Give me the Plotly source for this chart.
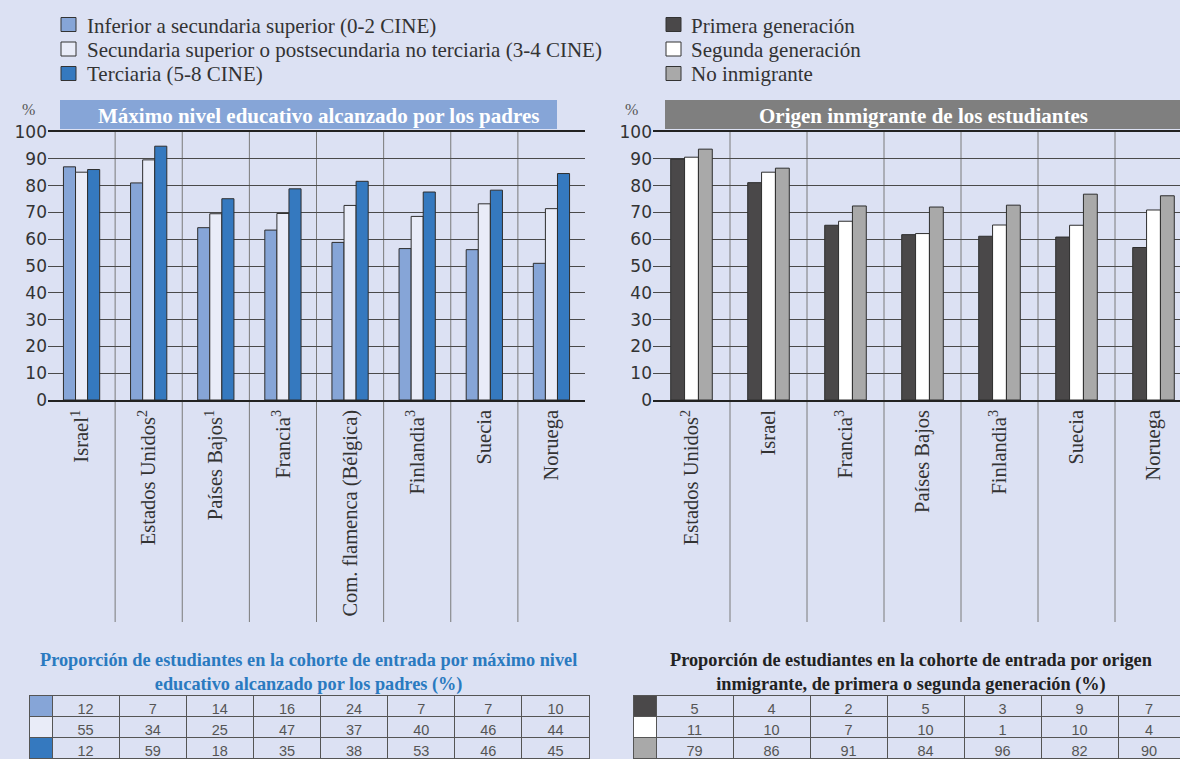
import plotly.graph_objects as go

W, H = 1180, 759

# ---------------- data ----------------
edu_countries = ["Israel<sup>1</sup>", "Estados Unidos<sup>2</sup>", "Países Bajos<sup>1</sup>",
                 "Francia<sup>3</sup>", "Com. flamenca (Bélgica)", "Finlandia<sup>3</sup>",
                 "Suecia", "Noruega"]
edu_low = [87, 81, 64.3, 63.4, 58.8, 56.5, 56.1, 51.0]
edu_mid = [85, 89.6, 69.5, 69.6, 72.6, 68.5, 73.2, 71.4]
edu_high = [86, 94.7, 75.1, 78.8, 81.6, 77.6, 78.3, 84.5]

imm_countries = ["Estados Unidos<sup>2</sup>", "Israel", "Francia<sup>3</sup>", "Países Bajos",
                 "Finlandia<sup>3</sup>", "Suecia", "Noruega"]
imm_first = [89.9, 81.1, 65.2, 61.7, 61.1, 60.8, 56.9]
imm_second = [90.6, 85.0, 66.7, 62.1, 65.3, 65.2, 70.9]
imm_native = [93.6, 86.5, 72.4, 72.0, 72.7, 76.8, 76.2]

edu_share_low = [12, 7, 14, 16, 24, 7, 7, 10]
edu_share_mid = [55, 34, 25, 47, 37, 40, 46, 44]
edu_share_high = [12, 59, 18, 35, 38, 53, 46, 45]

imm_share_first = [5, 4, 2, 5, 3, 9, 7]
imm_share_second = [11, 10, 7, 10, 1, 10, 4]
imm_share_native = [79, 86, 91, 84, 96, 82, 90]

edu_names = ["Inferior a secundaria superior (0-2 CINE)",
             "Secundaria superior o postsecundaria no terciaria (3-4 CINE)",
             "Terciaria (5-8 CINE)"]
imm_names = ["Primera generación", "Segunda generación", "No inmigrante"]

left_title = "Máximo nivel educativo alcanzado por los padres"
right_title = "Origen inmigrante de los estudiantes"
left_table_title = ("Proporción de estudiantes en la cohorte de entrada por máximo nivel<br>"
                    "educativo alcanzado por los padres (%)")
right_table_title = ("Proporción de estudiantes en la cohorte de entrada por origen<br>"
                     "inmigrante, de primera o segunda generación (%)")

# ---------------- style ----------------
BG = "#dce1f3"
edu_colors = ["#86a5d7", "#e9ecf8", "#3579bf"]
imm_colors = ["#4a4849", "#ffffff", "#a9a9a9"]
OUT = "#2e2e2e"
SERIF = "Liberation Serif"
SANS = "DejaVu Sans"
TXT = "#333333"


def px_x(p):
    return p / W


def px_y(p):
    return 1 - p / H


fig = go.Figure()

for name, vals, col in zip(edu_names, [edu_low, edu_mid, edu_high], edu_colors):
    fig.add_trace(go.Bar(x=edu_countries, y=vals, name=name,
                         marker=dict(color=col, line=dict(color=OUT, width=1)),
                         xaxis="x", yaxis="y", showlegend=False))
for name, vals, col in zip(imm_names, [imm_first, imm_second, imm_native], imm_colors):
    fig.add_trace(go.Bar(x=imm_countries, y=vals, name=name,
                         marker=dict(color=col, line=dict(color=OUT, width=1)),
                         xaxis="x2", yaxis="y2", showlegend=False))


# ---------------- tables ----------------
def table_trace(shares, colors, xdom, widths):
    ncol = len(shares[0])
    first = [""] + [str(v) for v in shares[0]]
    rest = [["", ""]] + [[str(s[i]) for s in shares[1:]] for i in range(ncol)]
    rest_fill = [colors[1:]] + [[BG] * 2 for _ in range(ncol)]
    font = dict(family="Liberation Sans", size=14.5, color="#555555")
    line = dict(color="#555555", width=1)
    return go.Table(
        domain=dict(x=xdom, y=[0, px_y(695)]),
        columnwidth=widths,
        header=dict(values=first, height=21, fill=dict(color=[colors[0]] + [BG] * ncol),
                    line=line, font=font, align="center"),
        cells=dict(values=rest, height=21, fill=dict(color=rest_fill),
                   line=line, font=font, align="center"),
    )


fig.add_trace(table_trace([edu_share_low, edu_share_mid, edu_share_high], edu_colors,
                          [px_x(29), px_x(589)], [23] + [67] * 8))
fig.add_trace(table_trace([imm_share_first, imm_share_second, imm_share_native], imm_colors,
                          [px_x(633), 1.0], [23] + [77] * 6 + [62]))

# ---------------- layout ----------------
ydom = [px_y(400), px_y(132)]
axis_common = dict(showgrid=False, ticks="", showline=True, linecolor="#222222", linewidth=1.5,
                   mirror=True, tickangle=-90, tickfont=dict(family=SERIF, size=20.5, color=TXT),
                   fixedrange=True)
yaxis_common = dict(range=[0, 100], dtick=10, showgrid=True, gridcolor="#4a4a4a", gridwidth=1,
                    zeroline=False, ticks="", showline=False,
                    tickfont=dict(family=SANS, size=17, color=TXT), fixedrange=True)

fig.update_layout(
    width=W, height=H,
    margin=dict(l=0, r=0, t=0, b=0, autoexpand=False),
    paper_bgcolor=BG, plot_bgcolor=BG,
    barmode="group", bargap=0.46, bargroupgap=0,
    xaxis=dict(domain=[px_x(48), px_x(585)], range=[-0.5, 7.5], anchor="y", **axis_common),
    yaxis=dict(domain=ydom, anchor="x", **yaxis_common),
    xaxis2=dict(domain=[px_x(653), 1.0], range=[-0.5, -0.5 + (1180 - 653) / 77.0], anchor="y2",
                **axis_common),
    yaxis2=dict(domain=ydom, anchor="x2", **yaxis_common),
    showlegend=False,
)

shapes = []
ann = []
# header bars
shapes.append(dict(type="rect", xref="paper", yref="paper", x0=px_x(60), x1=px_x(557),
                   y0=px_y(129), y1=px_y(100), fillcolor="#86a5d7", line=dict(width=0), layer="above"))
shapes.append(dict(type="rect", xref="paper", yref="paper", x0=px_x(665), x1=1.0,
                   y0=px_y(129), y1=px_y(100), fillcolor="#7f7f7f", line=dict(width=0), layer="above"))
# category separators
for i in range(len(edu_countries) - 1):
    shapes.append(dict(type="line", xref="x", yref="paper", x0=i + 0.5, x1=i + 0.5,
                       y0=px_y(622), y1=ydom[1], line=dict(color="#7a7a7a", width=1), layer="below"))
for i in range(len(imm_countries) - 1):
    shapes.append(dict(type="line", xref="x2", yref="paper", x0=i + 0.5, x1=i + 0.5,
                       y0=px_y(622), y1=ydom[1], line=dict(color="#7a7a7a", width=1), layer="below"))

# legends (swatch + label)
for names, colors, bx, tx in [(edu_names, edu_colors, 61, 85), (imm_names, imm_colors, 666, 689)]:
    for k, (nm, col) in enumerate(zip(names, colors)):
        yc = 24.5 + 24.5 * k
        shapes.append(dict(type="rect", xref="paper", yref="paper", x0=px_x(bx), x1=px_x(bx + 15),
                           y0=px_y(yc + 7), y1=px_y(yc - 7), fillcolor=col,
                           line=dict(color="#333333", width=1)))
        ann.append(dict(text=nm, x=px_x(tx), y=px_y(yc + 1), xref="paper", yref="paper",
                        xanchor="left", yanchor="middle", showarrow=False,
                        font=dict(family=SERIF, size=21, color=TXT)))

fig.update_layout(shapes=shapes)

ann.append(dict(text=f"<b>{left_title}</b>", x=px_x(318), y=px_y(116), xref="paper", yref="paper",
                xanchor="center", yanchor="middle", showarrow=False,
                font=dict(family=SERIF, size=21, color="white")))
ann.append(dict(text=f"<b>{right_title}</b>", x=px_x(923), y=px_y(116), xref="paper", yref="paper",
                xanchor="center", yanchor="middle", showarrow=False,
                font=dict(family=SERIF, size=21, color="white")))
ann.append(dict(text="%", x=px_x(28), y=px_y(110), xref="paper", yref="paper",
                xanchor="center", yanchor="middle", showarrow=False,
                font=dict(family=SERIF, size=16, color="#555555")))
ann.append(dict(text="%", x=px_x(631), y=px_y(110), xref="paper", yref="paper",
                xanchor="center", yanchor="middle", showarrow=False,
                font=dict(family=SERIF, size=16, color="#555555")))
ann.append(dict(text=f"<b>{left_table_title}</b>", x=px_x(308), y=px_y(672), xref="paper", yref="paper",
                xanchor="center", yanchor="middle", showarrow=False,
                font=dict(family=SERIF, size=18.3, color="#2a7ac0")))
ann.append(dict(text=f"<b>{right_table_title}</b>", x=px_x(911), y=px_y(672), xref="paper", yref="paper",
                xanchor="center", yanchor="middle", showarrow=False,
                font=dict(family=SERIF, size=18.3, color="#222222")))
fig.update_layout(annotations=ann)

fig.write_html(
    "out.html",
    config={"displayModeBar": False},
    post_script="document.body.style.margin='0px';document.body.style.overflow='hidden';"
                "document.body.style.background='" + BG + "';",
)
